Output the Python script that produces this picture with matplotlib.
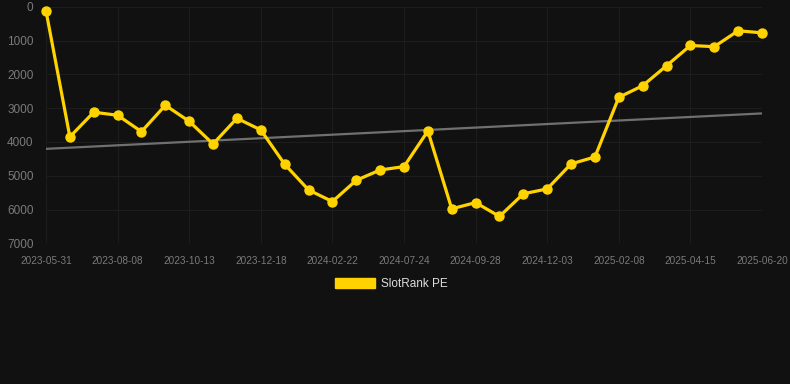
import numpy as np
import matplotlib
matplotlib.use("Agg")
import matplotlib.pyplot as plt
from matplotlib.patches import Patch

tick_labels = ["2023-05-31", "2023-08-08", "2023-10-13", "2023-12-18", "2024-02-22",
               "2024-07-24", "2024-09-28", "2024-12-03", "2025-02-08", "2025-04-15",
               "2025-06-20"]
values = [120, 3850, 3120, 3210, 3695, 2915, 3390, 4060, 3300, 3645,
          4660, 5420, 5765, 5135, 4830, 4730, 3675, 5980, 5795, 6205,
          5535, 5390, 4650, 4445, 2680, 2335, 1745, 1145, 1180, 710, 770]
series_name = "SlotRank PE"

BG = "#111111"
GOLD = "#FFD300"

plt.rcParams['font.family'] = ['Liberation Sans', 'DejaVu Sans']
fig = plt.figure(figsize=(7.9, 3.84), dpi=100, facecolor=BG)
ax = fig.add_axes([46/790, 1-243.3/384, (762-46)/790, (243.3-6.8)/384])
ax.set_facecolor(BG)

x = np.arange(len(values))
coef = np.polyfit(x, values, 1)
ax.plot(x, np.polyval(coef, x), color="#707070", lw=1.6, zorder=2)
ax.plot(x, values, color=GOLD, lw=2.3, marker="o", ms=6.5, zorder=3, clip_on=False)

ax.set_xlim(0, len(values)-1)
ax.set_ylim(7000, 0)
ax.set_yticks(np.arange(0, 7001, 1000))
ax.set_xticks(np.arange(0, len(values), 3))
ax.set_xticklabels(tick_labels)
ax.tick_params(axis='y', labelsize=8.5, colors="#7a7a7a", length=0, pad=9)
ax.tick_params(axis='x', labelsize=7.2, colors="#7a7a7a", length=0, pad=9.5)
ax.grid(True, color="#1d1d1d", lw=0.8)
ax.set_axisbelow(True)
for s in ax.spines.values():
    s.set_visible(False)

handle = Patch(facecolor=GOLD, edgecolor=GOLD)
fig.legend([handle], [series_name], loc="center", bbox_to_anchor=(0.495, 1-284/384),
           frameon=False, fontsize=8.5, labelcolor="#dddddd",
           handlelength=3.4, handleheight=1.0, handletextpad=0.5)

fig.savefig("out.png", dpi=100, facecolor=BG)
